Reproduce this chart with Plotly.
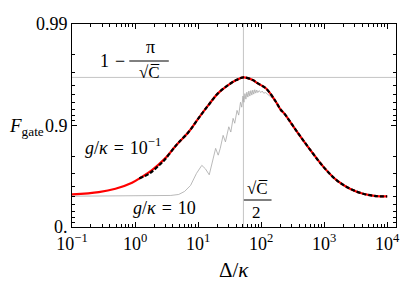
import numpy as np
import plotly.graph_objects as go

# ---- data ----
hline_F = 0.9664        # level 1 - pi/sqrt(C)
vline_delta = 52.4      # sqrt(C)/2

# g/kappa = 0.1 exact curve (red)
red_delta = [0.1, 0.266, 0.489, 0.897, 1.277, 1.836, 2.978, 4.265, 4.93, 7.07, 10.14, 14.57, 20.86, 30.01,
             40.43, 52.82, 73.84, 88.6, 118.9, 170.4, 204.8, 232.2, 374.4, 606.5, 982, 1588, 2564, 4160, 6716, 10000]
red_F = [0.5225, 0.547, 0.580, 0.634, 0.678, 0.723, 0.788, 0.837, 0.853, 0.884, 0.915, 0.937, 0.952, 0.960,
         0.9643, 0.9664, 0.9643, 0.9615, 0.957, 0.942, 0.930, 0.924, 0.884, 0.825, 0.743, 0.653, 0.581, 0.530, 0.504, 0.500]

# approximation (black dashed)
approx_delta = [1.168, 1.672, 2.40, 2.978, 4.265, 4.93, 7.07, 10.14, 14.57, 20.86, 30.01,
                40.43, 52.82, 73.84, 88.6, 118.9, 170.4, 204.8, 232.2, 374.4, 606.5, 982, 1588, 2564, 4160, 6716, 10000]
approx_F = [0.668, 0.701, 0.753, 0.784, 0.837, 0.853, 0.884, 0.915, 0.937, 0.952, 0.960,
            0.9643, 0.9664, 0.9643, 0.9615, 0.957, 0.942, 0.930, 0.924, 0.884, 0.825, 0.743, 0.653, 0.581, 0.530, 0.504, 0.500]

# g/kappa = 10 curve (gray, oscillating)
gray_delta = [0.1, 0.394, 1.168, 2.40, 3.693, 4.93, 6.115, 7.605, 9.447, 11.46, 13.07, 15.04, 16.78, 18.99, 20.86,
              22.49, 24.96, 27.19, 30.72, 33.08, 35.93, 38.17, 41.5, 44.11, 47.1, 49.37, 51.5, 53.42, 55.34, 57.38,
              59.41, 61.68, 63.97, 66.25, 68.78, 71.31, 73.84, 76.45, 79.38, 82.28, 85.28, 88.6, 93.4, 98.6, 104.1,
              109.8, 118.1, 126.3, 140.9, 156.9, 175.3, 195.1, 232.2, 374.4, 606.5, 982, 1588, 2564, 4160, 6716, 10000]
gray_F = [0.503, 0.503, 0.503, 0.504, 0.511, 0.522, 0.554, 0.611, 0.704, 0.753, 0.733, 0.694, 0.764, 0.832, 0.804,
          0.832, 0.875, 0.855, 0.897, 0.884, 0.915, 0.905, 0.929, 0.921, 0.941, 0.934, 0.9487, 0.941, 0.9515, 0.945,
          0.953, 0.9475, 0.9542, 0.9487, 0.9547, 0.9498, 0.9552, 0.9509, 0.9556, 0.952, 0.9552, 0.9526, 0.9547, 0.9526, 0.9542,
          0.952, 0.9526, 0.9509, 0.9487, 0.945, 0.9397, 0.9333, 0.924, 0.884, 0.825, 0.743, 0.653, 0.581, 0.530, 0.504, 0.500]

x_tickvals = [0.1, 1, 10, 100, 1000, 10000]
x_ticktext = ["10<sup>−1</sup>", "10<sup>0</sup>", "10<sup>1</sup>", "10<sup>2</sup>", "10<sup>3</sup>", "10<sup>4</sup>"]
y_tick_F = [0.0, 0.9, 0.99]
y_ticktext = ["0.", "0.9", "0.99"]
y_minor_F = [0.1, 0.2, 0.3, 0.4, 0.5, 0.6, 0.7, 0.8, 0.91, 0.92, 0.93, 0.94, 0.95, 0.96, 0.97, 0.98]


def tr(F):
    return [-np.log10(1 - f) for f in F]


FONT = "Liberation Serif"
fig = go.Figure()

# reference lines
fig.add_trace(go.Scatter(x=[0.1, 10 ** 4.14], y=tr([hline_F, hline_F]), mode="lines",
                         line=dict(color="#c4c4c4", width=1), showlegend=False, hoverinfo="skip"))
fig.add_trace(go.Scatter(x=[vline_delta, vline_delta], y=[0, 2], mode="lines",
                         line=dict(color="#c4c4c4", width=1), showlegend=False, hoverinfo="skip"))

fig.add_trace(go.Scatter(x=gray_delta, y=tr(gray_F), mode="lines",
                         line=dict(color="#a8a8a8", width=0.8), showlegend=False))
fig.add_trace(go.Scatter(x=red_delta, y=tr(red_F), mode="lines", line_shape="spline",
                         line=dict(color="#ff0000", width=2.2), showlegend=False))
fig.add_trace(go.Scatter(x=approx_delta, y=tr(approx_F), mode="lines", line_shape="spline",
                         line=dict(color="#000000", width=2.2, dash="4px,2px"), showlegend=False))

L, R, T, B = 72, 9, 24, 63
W, H = 409, 290
pw, ph = W - L - R, H - T - B


def px(x):
    return (x - L) / pw


def py(y):
    return (H - B - y) / ph


ann = []


def add(text, x, y, size=17):
    ann.append(dict(text=text, x=px(x), y=py(y), xref="paper", yref="paper", showarrow=False,
                    xanchor="center", yanchor="middle", font=dict(family=FONT, size=size, color="black")))


sp = "\u2004"
add("1" + sp + "−", 113, 61, 18)
add("π", 151, 47, 18)
add("√C\u0305", 150, 72, 17)
add("<i>g</i>/<i>κ</i>" + sp + "=" + sp + "10<sup>−1</sup>", 124, 146, 18)
add("<i>g</i>/<i>κ</i>" + sp + "=" + sp + "10", 166, 208, 18)
add("√C\u0305", 260, 188, 17)
add("2", 259, 212, 17)
add("<i>F</i><sub>gate</sub>", 26, 127, 19)
add("Δ/<i>κ</i>", 236, 270, 21)

shapes = [
    dict(type="line", xref="paper", yref="paper", x0=px(130), x1=px(170), y0=py(61), y1=py(61),
         line=dict(color="black", width=1)),
    dict(type="line", xref="paper", yref="paper", x0=px(246), x1=px(274), y0=py(200), y1=py(200),
         line=dict(color="black", width=1)),
]

axis_common = dict(showline=True, linecolor="black", linewidth=1, mirror="allticks", ticks="inside",
                   ticklen=5, tickcolor="black", showgrid=False, zeroline=False,
                   tickfont=dict(family=FONT, size=18, color="black"))

fig.update_layout(
    width=W, height=H, margin=dict(l=L, r=R, t=T, b=B),
    paper_bgcolor="white", plot_bgcolor="white",
    annotations=ann, shapes=shapes,
    xaxis=dict(type="log", range=[-1, 4.14], tickmode="array", tickvals=x_tickvals, ticktext=x_ticktext,
               ticklabeloverflow="allow",
               minor=dict(tickmode="array",
                          tickvals=[m * 10.0 ** e for e in range(-1, 4) for m in range(2, 10)],
                          ticks="inside", ticklen=3, tickcolor="black"),
               **axis_common),
    yaxis=dict(range=[0, 2], tickmode="array", tickvals=[0, 1, 2], ticktext=y_ticktext,
               minor=dict(tickmode="array", tickvals=tr(y_minor_F), ticks="inside", ticklen=3,
                          tickcolor="black"),
               **axis_common),
)

fig.write_html("out.html", config={"displayModeBar": False},
               post_script="document.body.style.margin='0';")
